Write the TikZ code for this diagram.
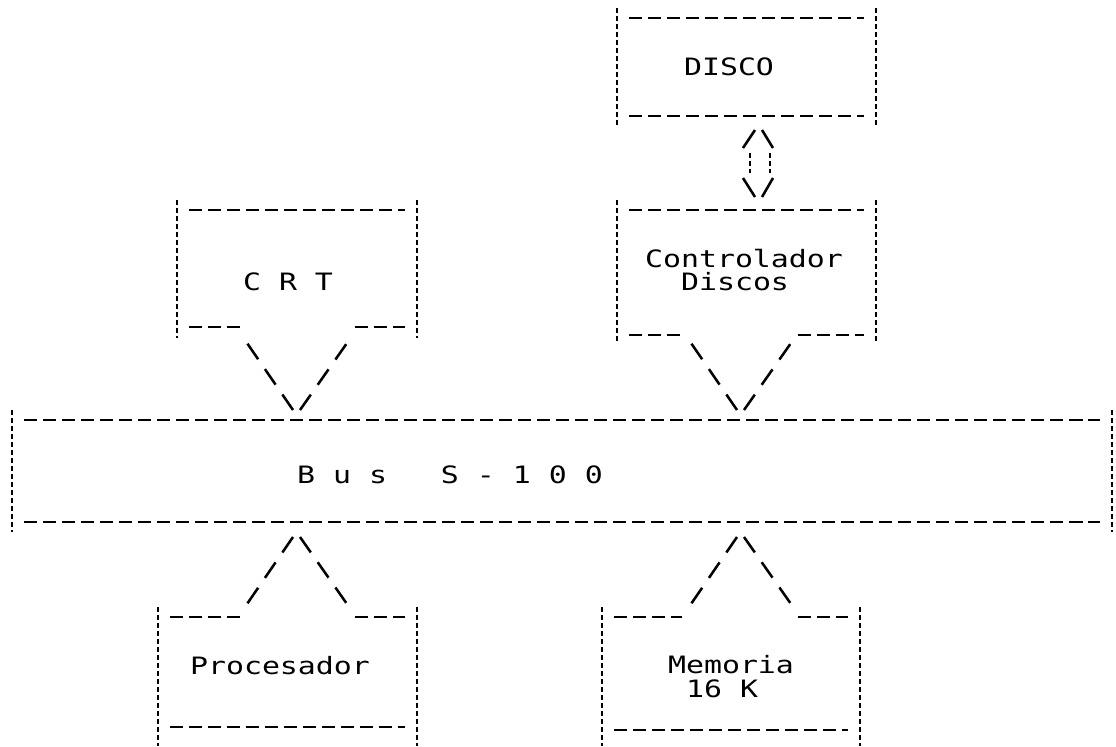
\documentclass[tikz,border=0pt]{standalone}
\usepackage{fontspec}
\usepackage{tikz}
\newfontfamily\matriz[FakeStretch=1.25]{DejaVu Sans Mono}
\tikzset{
  raya/.style={line width=1.7pt,dash pattern=on 0.33cm off 0.145cm},
  barra/.style={line width=1.9pt,dash pattern=on 0.13cm off 0.07cm},
  diag/.style={line width=1.8pt,dash pattern=on 0.47cm off 0.3cm},
  trazo/.style={line width=1.8pt},
  texto/.style={font={\matriz\fontsize{17pt}{17pt}\selectfont},inner sep=0pt,align=left}
}

\begin{document}
\begin{tikzpicture}[x=0.025cm,y=-0.025cm]
  \useasboundingbox (0,0) rectangle (1116,746);
  % barras verticales de las cajas : izq / der / arriba / abajo / hasta
  \foreach \xa/\xb/\ya/\yb/\yc in {617/876/18/116/126, 617/876/210/335/343,
      177/417/210/327/338, 12/1112/420/522/532, 158/417/617/727/746,
      602/860/617/730/746} {
    \draw[barra] (\xa,\ya-10) -- (\xa,\yc);
    \draw[barra] (\xb,\ya-10) -- (\xb,\yc);
  }
  % lineas completas
  \foreach \xa/\xb/\y in {617/876/18, 617/876/116, 617/876/210, 177/417/210,
      12/1112/420, 12/1112/522, 158/417/727, 602/860/730}
    \draw[raya] (\xa+12,\y) -- (\xb-12,\y);
  % lineas con hueco para las flechas
  \foreach \xa/\xb/\y in {629/682/335, 798/864/335, 189/240/327, 355/405/327,
      170/243/617, 355/405/617, 614/682/617, 798/848/617}
    \draw[raya] (\xa,\y) -- (\xb,\y);

  % textos
  \node[texto] (disco) at (729,67) {DISCO};
  \node[texto] (ctrl) at (744,270) {Controlador\\\ \ Discos};
  \node[texto] (crt) at (288,282) {C\ R\ T};
  \node[texto] (bus) at (450,475) {B\ u\ s\ \ \ S\ -\ 1\ 0\ 0};
  \node[texto] (proc) at (280,666) {Procesador};
  \node[texto] (mem) at (731,677) {Memoria\\\ 16 K};

  % flechas en V hacia el bus : nombre / centro / y extremo / y punta
  \foreach \n/\x/\yo/\yv in {crt/296/343/410, ctrl/740/343/410,
      proc/296/604/537, mem/740/604/537} {
    \coordinate (\n-i) at (\x-49,\yo);
    \coordinate (\n-d) at (\x+51,\yo);
    \coordinate (\n-pi) at (\x-3,\yv);
    \coordinate (\n-pd) at (\x+4,\yv);
    \draw[diag] (\n-pi) -- (\n-i);
    \draw[diag] (\n-pd) -- (\n-d);
  }

  % doble flecha disco <-> controlador
  \coordinate (dc-a) at (758,130);
  \coordinate (dc-b) at (758,197);
  \draw[trazo] ([shift={(-15,18)}]dc-a) -- ([shift={(-3,0)}]dc-a);
  \draw[trazo] ([shift={(4,0)}]dc-a) -- ([shift={(15,18)}]dc-a);
  \draw[barra] ([shift={(-8,23)}]dc-a) -- ([shift={(-8,-24)}]dc-b);
  \draw[barra] ([shift={(12,23)}]dc-a) -- ([shift={(12,-24)}]dc-b);
  \draw[trazo] ([shift={(-15,-19)}]dc-b) -- ([shift={(-3,0)}]dc-b);
  \draw[trazo] ([shift={(15,-19)}]dc-b) -- ([shift={(4,0)}]dc-b);
\end{tikzpicture}
\end{document}
